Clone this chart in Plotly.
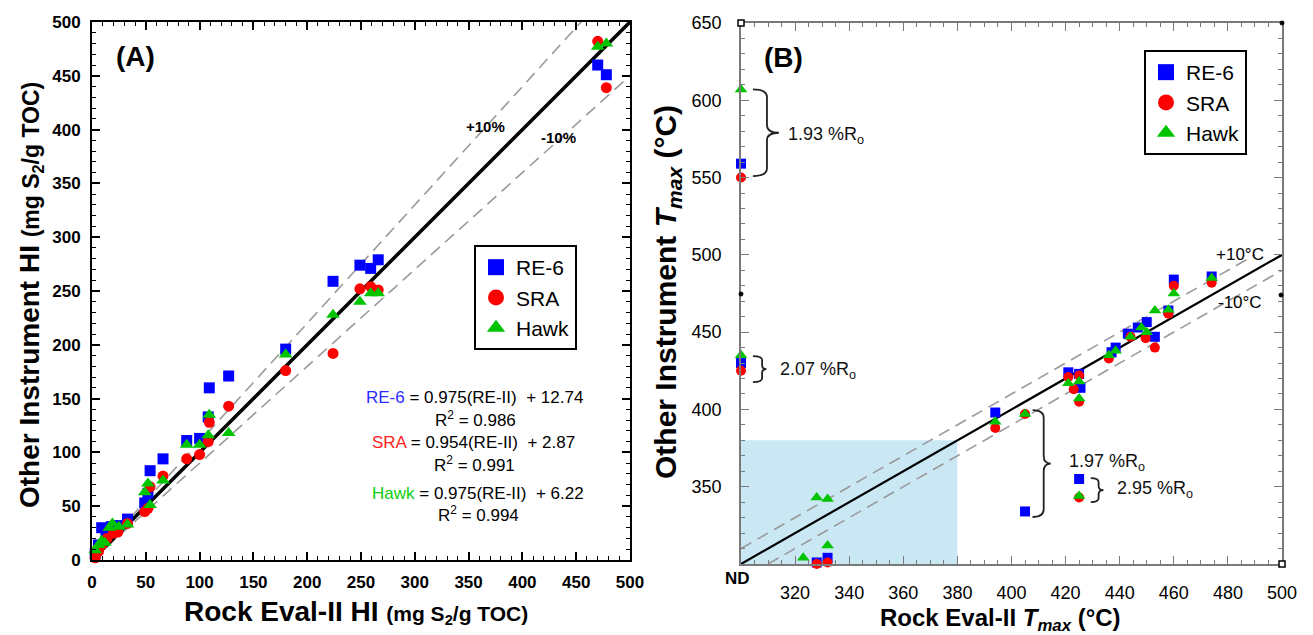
import plotly.graph_objects as go
import numpy as np

W, H = 1313, 635

# ---------------- Panel A data (HI, mg S2/g TOC) ----------------
re6_a_x = [3, 6, 9, 13, 18, 24, 33, 49, 52, 54, 66, 88, 100, 108, 109, 127, 180, 224, 249, 259, 266, 470, 478]
re6_a_y = [6, 14, 30, 26, 31, 32, 38, 53, 62, 83, 94, 111, 113, 133, 160, 171, 196, 259, 274, 271, 279, 460, 451]

sra_a_x = [3, 6, 9, 14, 20, 24, 33, 49, 52, 54, 66, 88, 100, 108, 109, 127, 180, 224, 249, 259, 266, 470, 478]
sra_a_y = [2, 8, 14, 20, 25, 26, 34, 45, 48, 68, 78, 94, 98, 110, 128, 143, 176, 192, 252, 254, 251, 482, 439]

hawk_a_x = [3, 6, 9, 12, 16, 19, 25, 33, 49, 52, 54, 66, 88, 100, 108, 109, 127, 180, 224, 249, 259, 266, 470, 478]
hawk_a_y = [9, 14, 18, 16, 30, 34, 31, 33, 63, 71, 51, 74, 107, 107, 116, 135, 118, 191, 228, 240, 248, 248, 477, 480]

# ---------------- Panel B data (Tmax, degC); ND plotted at 300 ----------------
re6_b_x = [300, 300, 323, 328, 332, 394, 405, 421, 425, 425.5, 425, 437, 438.5, 443, 446.7, 450, 453, 458, 460, 474]
re6_b_y = [559, 430, 297, 301, 304, 398, 334, 424, 423, 414, 355, 437, 440, 449, 453, 456.5, 447, 464, 484, 486]

sra_b_x = [300, 300, 323, 328, 332, 332, 394, 405, 421, 423, 425, 425, 425, 436, 444, 449.6, 453, 458, 460, 474]
sra_b_y = [550, 425, 299.5, 300, 301, 299, 388, 397, 421, 413, 422, 405, 343, 433, 447, 446, 440, 462, 480, 482]

hawk_b_x = [300, 300, 323, 328, 332, 332, 394, 405, 421, 425, 425, 425, 436, 438.5, 444, 448, 450, 453, 458, 460, 474]
hawk_b_y = [607, 435, 304, 343, 342, 312, 392, 397, 417, 418, 407, 344, 435, 438, 447, 453, 450, 464, 464.5, 475, 485]

series_names = ["RE-6", "SRA", "Hawk"]
colors = ["#0000ff", "#ff0000", "#00c400"]
symbols = ["square", "circle", "triangle-up"]

x_ticks_a = list(range(0, 501, 50))
x_ticks_b = list(range(320, 501, 20))
y_ticks_b = list(range(350, 651, 50))

FONT = "Liberation Sans, Arial, sans-serif"


def px(x):
    return x / W


def py(y):
    return 1 - y / H


fig = go.Figure()

# ---- Panel A reference lines ----
xa = np.array([0, 500])
fig.add_trace(go.Scatter(x=[0, 500 / 1.1], y=[0, 500], mode="lines", xaxis="x", yaxis="y",
                         line=dict(color="#9a9a9a", width=1.6, dash="12px,7px"), showlegend=False, hoverinfo="skip"))
fig.add_trace(go.Scatter(x=xa, y=0.9 * xa, mode="lines", xaxis="x", yaxis="y",
                         line=dict(color="#9a9a9a", width=1.6, dash="12px,7px"), showlegend=False, hoverinfo="skip"))
fig.add_trace(go.Scatter(x=xa, y=xa, mode="lines", xaxis="x", yaxis="y",
                         line=dict(color="black", width=3.5), showlegend=False, hoverinfo="skip"))

# ---- Panel B reference lines ----
fig.add_trace(go.Scatter(x=[300, 490], y=[310, 500], mode="lines", xaxis="x2", yaxis="y2",
                         line=dict(color="#9a9a9a", width=1.6, dash="12px,7px"), showlegend=False, hoverinfo="skip"))
fig.add_trace(go.Scatter(x=[310, 500], y=[300, 490], mode="lines", xaxis="x2", yaxis="y2",
                         line=dict(color="#9a9a9a", width=1.6, dash="12px,7px"), showlegend=False, hoverinfo="skip"))
fig.add_trace(go.Scatter(x=[300, 500], y=[300, 500], mode="lines", xaxis="x2", yaxis="y2",
                         line=dict(color="black", width=2.2), showlegend=False, hoverinfo="skip"))

sizes_a = [11, 11, 12]
sizes_b = [10, 10, 11]
data_a = [(re6_a_x, re6_a_y), (sra_a_x, sra_a_y), (hawk_a_x, hawk_a_y)]
data_b = [(re6_b_x, re6_b_y), (sra_b_x, sra_b_y), (hawk_b_x, hawk_b_y)]

for i, name in enumerate(series_names):
    fig.add_trace(go.Scatter(x=data_a[i][0], y=data_a[i][1], mode="markers", name=name,
                             xaxis="x", yaxis="y", cliponaxis=False, showlegend=False,
                             marker=dict(symbol=symbols[i], color=colors[i], size=sizes_a[i], line=dict(width=0))))
for i, name in enumerate(series_names):
    fig.add_trace(go.Scatter(x=data_b[i][0], y=data_b[i][1], mode="markers", name=name,
                             xaxis="x2", yaxis="y2", cliponaxis=False, showlegend=False,
                             marker=dict(symbol=symbols[i], color=colors[i], size=sizes_b[i], line=dict(width=0))))
# legend entries
for i, name in enumerate(series_names):
    fig.add_trace(go.Scatter(x=[None], y=[None], mode="markers", name=name, xaxis="x", yaxis="y",
                             legend="legend", marker=dict(symbol=symbols[i], color=colors[i], size=16)))
for i, name in enumerate(series_names):
    fig.add_trace(go.Scatter(x=[None], y=[None], mode="markers", name=name, xaxis="x2", yaxis="y2",
                             legend="legend2", marker=dict(symbol=symbols[i], color=colors[i], size=16)))

axis_common_a = dict(showline=True, linecolor="black", linewidth=2, mirror="allticks", ticks="inside",
                     ticklen=8, tickwidth=1.5, tickcolor="black", showgrid=False, zeroline=False,
                     automargin=False,
                     tickfont=dict(family=FONT, size=17, color="black", weight="bold"))
axis_common_b = dict(showline=True, linecolor="#7a7a7a", linewidth=1.5, mirror="allticks", ticks="inside",
                     ticklen=8, tickwidth=1.2, tickcolor="#7a7a7a", showgrid=False, zeroline=False,
                     automargin=False,
                     tickfont=dict(family=FONT, size=18, color="black"))

fig.update_layout(
    width=W, height=H, margin=dict(l=0, r=0, t=0, b=0, autoexpand=False),
    paper_bgcolor="white", plot_bgcolor="white",
    font=dict(family=FONT, color="black"),
    xaxis=dict(domain=[px(92), px(630)], range=[0, 500], tickvals=x_ticks_a, anchor="y",
               ticklabelstandoff=6,
               minor=dict(dtick=10, tick0=0, ticks="inside", ticklen=4, tickcolor="black", tickwidth=1.2),
               **axis_common_a),
    yaxis=dict(domain=[py(560), py(22)], range=[0, 500], tickvals=x_ticks_a, anchor="x",
               ticklabelstandoff=6,
               minor=dict(dtick=10, tick0=0, ticks="inside", ticklen=4, tickcolor="black", tickwidth=1.2),
               **axis_common_a),
    xaxis2=dict(domain=[px(741), px(1282)], range=[300, 500], tickvals=x_ticks_b, anchor="y2",
                ticklabelstandoff=12,
                minor=dict(dtick=5, tick0=300, ticks="inside", ticklen=4, tickcolor="#7a7a7a", tickwidth=1),
                **axis_common_b),
    yaxis2=dict(domain=[py(564), py(23)], range=[300, 650], tickvals=y_ticks_b, anchor="x2",
                ticklabelstandoff=14,
                minor=dict(dtick=10, tick0=300, ticks="inside", ticklen=4, tickcolor="#7a7a7a", tickwidth=1),
                **axis_common_b),
    legend=dict(x=px(474), y=py(245), xanchor="left", yanchor="top", bgcolor="white",
                bordercolor="black", borderwidth=2, font=dict(family=FONT, size=21),
                itemsizing="trace", tracegroupgap=0),
    legend2=dict(x=px(1144), y=py(50), xanchor="left", yanchor="top", bgcolor="white",
                 bordercolor="black", borderwidth=2, font=dict(family=FONT, size=21),
                 itemsizing="trace", tracegroupgap=0),
)

# shaded region in panel B
fig.add_shape(type="rect", xref="x2", yref="y2", x0=300, x1=380, y0=300, y1=380,
              fillcolor="#c9e8f4", line=dict(width=0), layer="below")

# small corner markers on panel B frame (as in the original)
for cx, cy in [(741, 23), (1282, 564)]:
    fig.add_shape(type="rect", xref="paper", yref="paper", x0=px(cx - 3), x1=px(cx + 3),
                  y0=py(cy + 3), y1=py(cy - 3), line=dict(color="black", width=1.5), fillcolor="white")
for cx, cy in [(1282, 23), (741, 294), (1281, 295)]:
    fig.add_shape(type="circle", xref="paper", yref="paper", x0=px(cx - 2), x1=px(cx + 2),
                  y0=py(cy + 2), y1=py(cy - 2), line=dict(color="black", width=1), fillcolor="black")


# braces in panel B
def brace(xl, yt, yb, w1, w2, r):
    x1 = xl + w1
    x2 = x1 + w2
    ym = (yt + yb) / 2
    return (f"M {xl},{yt} Q {x1},{yt} {x1},{yt - r} L {x1},{ym + r} Q {x1},{ym} {x2},{ym} "
            f"Q {x1},{ym} {x1},{ym - r} L {x1},{yb + r} Q {x1},{yb} {xl},{yb}")


braces = [
    (304.4, 607, 551, 5.2, 4.4, 5, 316.5, 577.5, "1.93 %R<sub>o</sub>"),
    (304.4, 434.5, 417.7, 3.4, 1.6, 2.5, 313.5, 425, "2.07 %R<sub>o</sub>"),
    (407.8, 399.6, 330.4, 4.1, 2.6, 5, 420.5, 365.5, "1.97 %R<sub>o</sub>"),
    (429.3, 355.6, 340, 2.9, 1.8, 2.5, 438.3, 348, "2.95 %R<sub>o</sub>"),
]
for xl, yt, yb, w1, w2, r, tx, ty, label in braces:
    fig.add_shape(type="path", xref="x2", yref="y2", path=brace(xl, yt, yb, w1, w2, r),
                  line=dict(color="#222", width=1.8))
    fig.add_annotation(xref="x2", yref="y2", x=tx, y=ty, text=label, showarrow=False,
                       xanchor="left", yanchor="middle", font=dict(family=FONT, size=18, color="#111"))


def add_text(x, y, text, size, bold=False, color="black", angle=0, xanchor="center"):
    fig.add_annotation(xref="paper", yref="paper", x=px(x), y=py(y), text=text, showarrow=False,
                       xanchor=xanchor, yanchor="middle", textangle=angle,
                       font=dict(family=FONT, size=size, color=color, weight="bold" if bold else "normal"))


# panel labels
add_text(135, 56, "(A)", 28, bold=True)
add_text(783, 58, "(B)", 28, bold=True)

# +/-10% labels
add_text(485, 126, "+10%", 15, bold=True)
add_text(558, 137, "-10%", 15, bold=True)
add_text(1240, 255, "+10°C", 17)
add_text(1240, 302, "-10°C", 17)
add_text(737, 578, "ND", 17, bold=True)

# equations
add_text(474, 397, "<span style='color:#2b2bff'>RE-6</span> = 0.975(RE-II)  + 12.74", 17)
add_text(475, 419, "R<sup>2</sup> = 0.986", 17)
add_text(473, 442, "<span style='color:#ff2020'>SRA</span> = 0.954(RE-II)  + 2.87", 17)
add_text(474, 464, "R<sup>2</sup> = 0.991", 17)
add_text(478, 493, "<span style='color:#10d010'>Hawk</span> = 0.975(RE-II)  + 6.22", 17)
add_text(478, 514, "R<sup>2</sup> = 0.994", 17)

# axis titles
add_text(356, 612, "<b>Rock Eval-II HI</b> <b><span style='font-size:21px'>(mg S<sub>2</sub>/g TOC)</span></b>", 28)
add_text(30, 295, "<b>Other Instrument HI</b> <b><span style='font-size:23px'>(mg S<sub>2</sub>/g TOC)</span></b>", 28, angle=-90)
add_text(1000, 619, "<b>Rock Eval-II <i>T<sub>max</sub></i> (°C)</b>", 24)
add_text(668, 292, "<b>Other Instrument <i>T<sub>max</sub></i> (°C)</b>", 30, angle=-90)

fig.write_html("out.html")
